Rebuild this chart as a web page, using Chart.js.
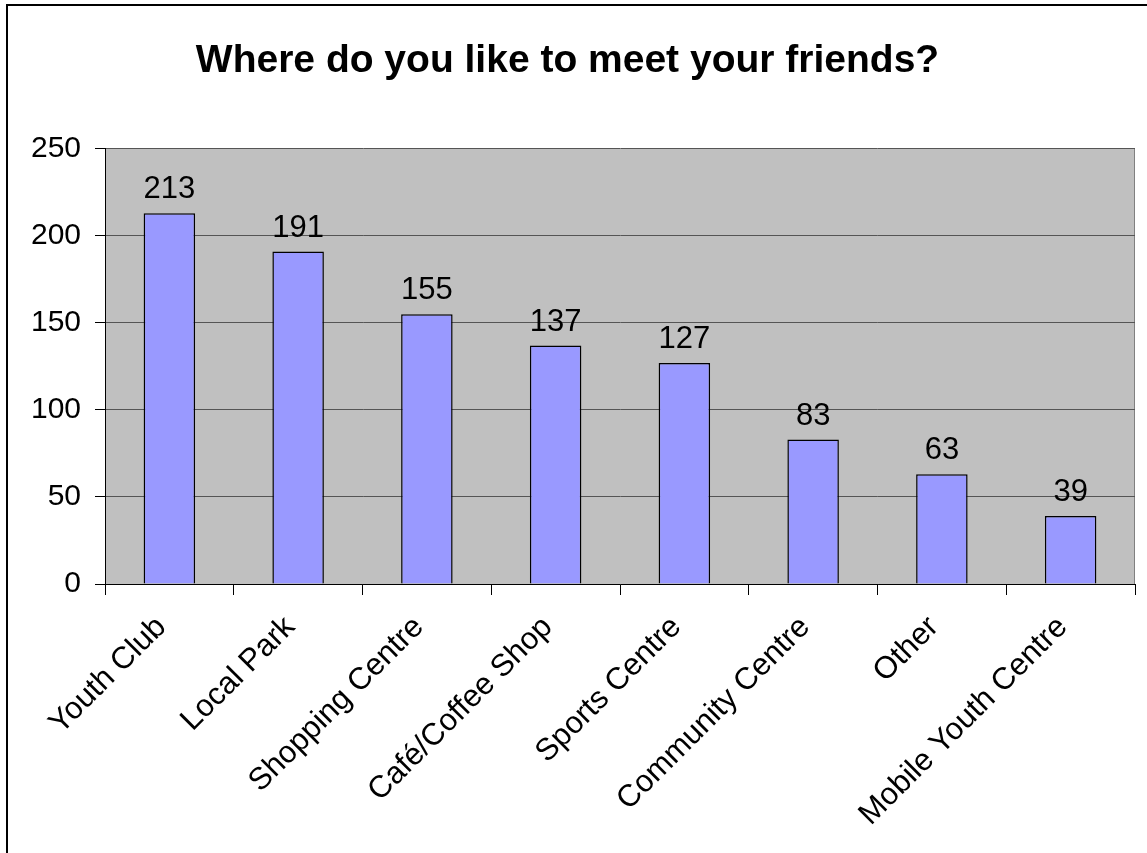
<!DOCTYPE html>
<html>
<head>
<meta charset="utf-8">
<title>Where do you like to meet your friends?</title>
<script src="https://cdn.jsdelivr.net/npm/chart.js@4/dist/chart.umd.min.js"></script>
<style>
    html, body { margin: 0; padding: 0; background: #fff; }
    #wrap { width: 1147px; height: 853px; position: relative; }
</style>
</head>
<body>
<div id="wrap"><canvas id="meetChart"></canvas></div>
<script>
// Chart data
const places = ["Youth Club", "Local Park", "Shopping Centre", "Café/Coffee Shop",
    "Sports Centre", "Community Centre", "Other", "Mobile Youth Centre"];
const answers = [213, 191, 155, 137, 127, 83, 63, 39];
const yMin = 0;
const yMax = 250;
const yStep = 50;

const FONT = "Arial, 'Liberation Sans', sans-serif";

// Grey plot area + outer frame, like the old Excel chart
const backdrop = {
    id: "backdrop",
    beforeDraw(chart) {
        const ctx = chart.ctx;
        const a = chart.chartArea;
        ctx.save();
        ctx.fillStyle = "#fff";
        ctx.fillRect(0, 0, chart.width, chart.height);
        ctx.strokeStyle = "#000";
        ctx.lineWidth = 2;
        ctx.beginPath();
        ctx.moveTo(7, chart.height);
        ctx.lineTo(7, 5);
        ctx.lineTo(chart.width, 5);
        ctx.stroke();
        ctx.fillStyle = "#c0c0c0";
        ctx.fillRect(a.left, a.top, a.right - a.left, a.bottom - a.top);
        // right edge of the plot area
        ctx.strokeStyle = "#808080";
        ctx.lineWidth = 1;
        ctx.beginPath();
        ctx.moveTo(Math.round(a.right) - 0.5, a.top);
        ctx.lineTo(Math.round(a.right) - 0.5, a.bottom);
        ctx.stroke();
        ctx.restore();
    }
};

// Value labels above each bar
const barValues = {
    id: "barValues",
    afterDatasetsDraw(chart) {
        const ctx = chart.ctx;
        const meta = chart.getDatasetMeta(0);
        ctx.save();
        ctx.font = "31px " + FONT;
        ctx.fillStyle = "#000";
        ctx.textAlign = "center";
        ctx.textBaseline = "alphabetic";
        meta.data.forEach((bar, i) => {
            ctx.fillText(String(answers[i]), bar.x, bar.y - 15);
        });
        ctx.restore();
    }
};

const ctx = document.getElementById("meetChart").getContext("2d");
const meetChart = new Chart(ctx, {
    type: "bar",
    data: {
        labels: places,
        datasets: [{
            label: "Answers",
            data: answers,
            backgroundColor: "#9999ff",
            borderColor: "#000",
            borderWidth: 1.5,
            categoryPercentage: 1,
            barPercentage: 0.4
        }]
    },
    options: {
        responsive: true,
        maintainAspectRatio: false,
        animation: false,
        layout: {
            padding: { left: 0, right: 12, top: 0, bottom: 0 }
        },
        plugins: {
            legend: { display: false },
            tooltip: { enabled: false },
            title: {
                display: true,
                text: "Where do you like to meet your friends?",
                color: "#000",
                font: { family: FONT, size: 39, weight: "bold", lineHeight: 1.2 },
                padding: { top: 38, bottom: 64 }
            }
        },
        scales: {
            x: {
                afterFit(scale) { scale.height = 269; },
                grid: {
                    drawOnChartArea: false,
                    offset: true,
                    tickLength: 11,
                    tickColor: "#000"
                },
                border: { color: "#000", width: 1 },
                ticks: {
                    color: "#000",
                    font: { family: FONT, size: 31 },
                    maxRotation: 45,
                    minRotation: 45,
                    padding: 14,
                    labelOffset: -8
                }
            },
            y: {
                min: yMin,
                max: yMax,
                afterFit(scale) { scale.width = 105; },
                grid: {
                    color: "#555",
                    lineWidth: 1,
                    tickLength: 10,
                    tickColor: "#000"
                },
                border: { color: "#000", width: 1 },
                ticks: {
                    stepSize: yStep,
                    color: "#000",
                    font: { family: FONT, size: 30 },
                    padding: 14
                }
            }
        }
    },
    plugins: [backdrop, barValues]
});
</script>
</body>
</html>
